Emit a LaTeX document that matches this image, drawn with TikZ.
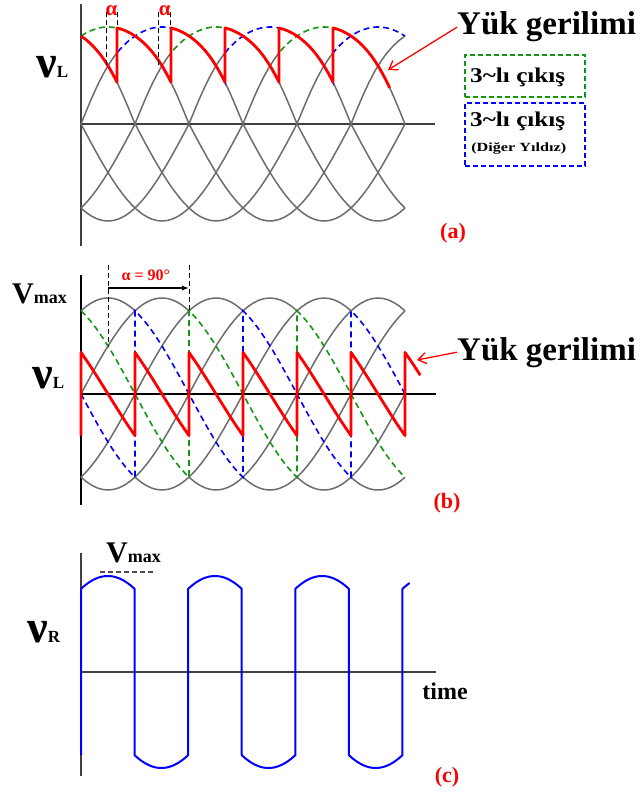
\documentclass[tikz,border=0pt]{standalone}
\usepackage{fontspec}
\setmainfont{Liberation Serif}
\usetikzlibrary{arrows.meta}
\definecolor{yesil}{RGB}{20,150,20}
\definecolor{mavi}{RGB}{0,0,255}
\definecolor{kirmizi}{RGB}{255,0,0}
\definecolor{gri}{RGB}{108,108,108}
\newcommand{\gerilim}[1]{{\fontsize{46}{46}\selectfont ν}{\fontsize{17}{17}\selectfont #1}}
\newcommand{\tepe}{{\fontsize{30}{30}\selectfont V}{\fontsize{18}{18}\selectfont max}}
\tikzset{
  eksen/.style   = {line width=1.2pt, black!75},
  faz/.style     = {line width=1.5pt, gri},
  yildizA/.style = {line width=1.6pt, yesil, dash pattern=on 6pt off 4pt},
  yildizB/.style = {line width=1.6pt, mavi, dash pattern=on 6pt off 4pt},
  yuk/.style     = {line width=2.8pt, kirmizi, line join=round},
  kare/.style    = {line width=2pt, mavi, line join=round},
  isaret/.style  = {line width=0.9pt, black, dash pattern=on 5pt off 3pt},
  ok/.style      = {line width=1.3pt, kirmizi, -{Straight Barb[length=8pt,width=11pt]}},
  baslik/.style  = {font=\fontsize{33}{36}\selectfont\bfseries, inner sep=0},
  harf/.style    = {font=\fontsize{22}{24}\selectfont\bfseries, text=kirmizi, inner sep=0},
  alfa/.style    = {font=\fontsize{21}{22}\selectfont\bfseries, text=kirmizi, inner sep=0},
  etiket/.style  = {font=\bfseries, inner sep=0, anchor=base west},
  kutuA/.style   = {draw=yesil, line width=1.4pt, dash pattern=on 5pt off 3pt, minimum width=120pt, minimum height=42pt},
  kutuB/.style   = {draw=mavi, line width=1.4pt, dash pattern=on 5pt off 3pt, minimum width=120pt, minimum height=63pt},
  kutuyazi/.style = {font=\fontsize{21}{22}\selectfont\bfseries, inner sep=0, anchor=base west, xscale=1.2}
}

\begin{document}
\begin{tikzpicture}[x=1pt,y=-1pt]
  \useasboundingbox (0,0) rectangle (642,794);

  % (a) 3~li cikislar ve yuk gerilimi
  \draw[eksen] (81,4) -- (81,246); \draw[eksen] (81,124) -- (435,124);
  \begin{scope}[shift={(81,124)}, x=0.9pt, y=97pt, samples=40,
      declare function={f(\u,\v)=cos(\u-\v)+0.1*sin(180*max(cos(\u-\v),0));}]
    \foreach \p/\a/\b in {30/100/360, 90/0/40, 90/160/360, 150/0/100, 150/220/360,
                          210/0/160, 210/280/360, 270/0/220, 270/340/360, 330/40/280}
      \draw[faz] plot[domain=\a:\b] (\x,{f(\x,\p)});
    \draw[yildizA] plot[domain=0:100] (\x,{f(\x,30)}) -- plot[domain=100:220] (\x,{f(\x,150)})
      -- plot[domain=220:340] (\x,{f(\x,270)});
    \draw[yildizB] plot[domain=0:40] (\x,{f(\x,330)}) -- plot[domain=40:160] (\x,{f(\x,90)})
      -- plot[domain=160:280] (\x,{f(\x,210)}) -- plot[domain=280:360] (\x,{f(\x,330)});
    \draw[yuk] plot[domain=0:40] (\x,{f(\x,330)})
      \foreach \p in {30,90,...,210} { -- plot[domain=\p+10:\p+70] (\x,{f(\x,\p)}) }
      -- plot[domain=280:343] (\x,{f(\x,270)});
    \coordinate (a1u) at (28,1.15); \coordinate (a1a) at (28,0.6);
    \coordinate (a2u) at (40,1.15); \coordinate (a2a) at (40,0.99);
    \coordinate (a3u) at (86,1.15); \coordinate (a3a) at (86,0.6);
    \coordinate (a4u) at (99,1.15); \coordinate (a4a) at (99,0.99);
    \draw[isaret] (a1u) -- (a1a); \draw[isaret] (a2u) -- (a2a);
    \draw[isaret] (a3u) -- (a3a); \draw[isaret] (a4u) -- (a4a);
    \node[alfa] (alfa1) at (34,1.165) {α}; \node[alfa] (alfa2) at (93,1.165) {α};
  \end{scope}
  \node[etiket] (vLa) at (36,78) {\gerilim{L}};
  \node[baslik, anchor=base west] (yukA) at (457,35) {Yük gerilimi};
  \coordinate (ucA) at (388,70); \draw[ok] (yukA.west) -- (ucA);
  \node[kutuA] (kA) at (525,76) {}; \node[kutuyazi] (tA) at (470,83) {3\textasciitilde lı çıkış};
  \node[kutuB] (kB) at (525,134.5) {}; \node[kutuyazi] (tB) at (470,127) {3\textasciitilde lı çıkış};
  \node[kutuyazi, font=\fontsize{12.5}{13}\selectfont\bfseries, xscale=1.08] (tB2) at (471,152) {(Diğer Yıldız)};
  \node[harf] (la) at (453,233) {(a)};

  % (b) alfa = 90 derece
  \draw[eksen, black] (81,275) -- (81,505); \draw[eksen, black] (81,394) -- (436,394);
  \begin{scope}[shift={(81,394)}, x=0.9pt, y=96pt, samples=40]
    \foreach \p/\a/\b in {30/0/60, 30/180/360, 90/0/120, 90/240/360, 150/0/180,
                          150/300/360, 210/0/240, 270/60/300, 330/120/360}
      \draw[faz] plot[domain=\a:\b] (\x,{cos(\x-\p)});
    \draw[yildizA] plot[domain=0:120] (\x,{cos(\x+30)}) -- plot[domain=120:240] (\x,{cos(\x-90)})
      -- plot[domain=240:360] (\x,{cos(\x-210)});
    \draw[yildizB] plot[domain=0:60] (\x,{cos(\x+90)}) -- plot[domain=60:180] (\x,{cos(\x-30)})
      -- plot[domain=180:300] (\x,{cos(\x-150)}) -- plot[domain=300:360] (\x,{cos(\x-270)});
    \draw[yuk] (0,-0.433)
      \foreach \k in {0,...,5} { -- plot[domain=60*\k:60*\k+60] (\x,{0.866*cos(\x-60*\k+60)}) }
      -- plot[domain=360:377] (\x,{0.866*cos(\x-300)});
    \coordinate (b1u) at (30,1.344); \coordinate (b1a) at (30,0.5);
    \coordinate (b2u) at (120,1.344); \coordinate (b2a) at (120,0.866);
    \draw[isaret] (b1u) -- (b1a); \draw[isaret] (b2u) -- (b2a);
    \coordinate (okbas) at (30,1.104); \coordinate (okson) at (120,1.104);
    \draw[line width=1.2pt, -{Latex[length=7pt,width=5pt]}] (okbas) -- (okson);
    \node[alfa, font=\fontsize{16}{17}\selectfont\bfseries] (alfa90) at (72,1.24) {α = 90°};
  \end{scope}
  \node[etiket] (vmaxB) at (12,303) {\tepe};
  \node[etiket] (vLb) at (32,388) {\gerilim{L}};
  \node[baslik, anchor=base west] (yukB) at (457,360) {Yük gerilimi};
  \coordinate (ucB) at (417,360); \draw[ok] (yukB.west) -- (ucB);
  \node[harf] (lb) at (447,503) {(b)};

  % (c) yuk akimi / gerilimi
  \draw[eksen] (81,553) -- (81,776); \draw[eksen] (81,672) -- (436,672);
  \begin{scope}[shift={(81,672)}, x=0.893pt, y=96pt, samples=30]
    \draw[kare] (0,-0.866)
      \foreach \k in {0,...,5} { -- plot[domain=60*\k:60*\k+60] (\x,{cos(\x-60*\k-30)*(1-2*mod(\k,2))}) }
      -- plot[domain=360:368] (\x,{cos(\x-390)});
  \end{scope}
  \coordinate (vm1) at (100,572); \coordinate (vm2) at (153,572);
  \draw[isaret, black!70, line width=1.2pt] (vm1) -- (vm2);
  \node[etiket] (vmaxC) at (106,562) {\tepe};
  \node[etiket] (vR) at (27,642) {\gerilim{R}};
  \node[etiket, font=\fontsize{24}{26}\selectfont\bfseries, anchor=center] (zaman) at (445,691) {time};
  \node[harf] (lc) at (447,777) {(c)};
\end{tikzpicture}
\end{document}
